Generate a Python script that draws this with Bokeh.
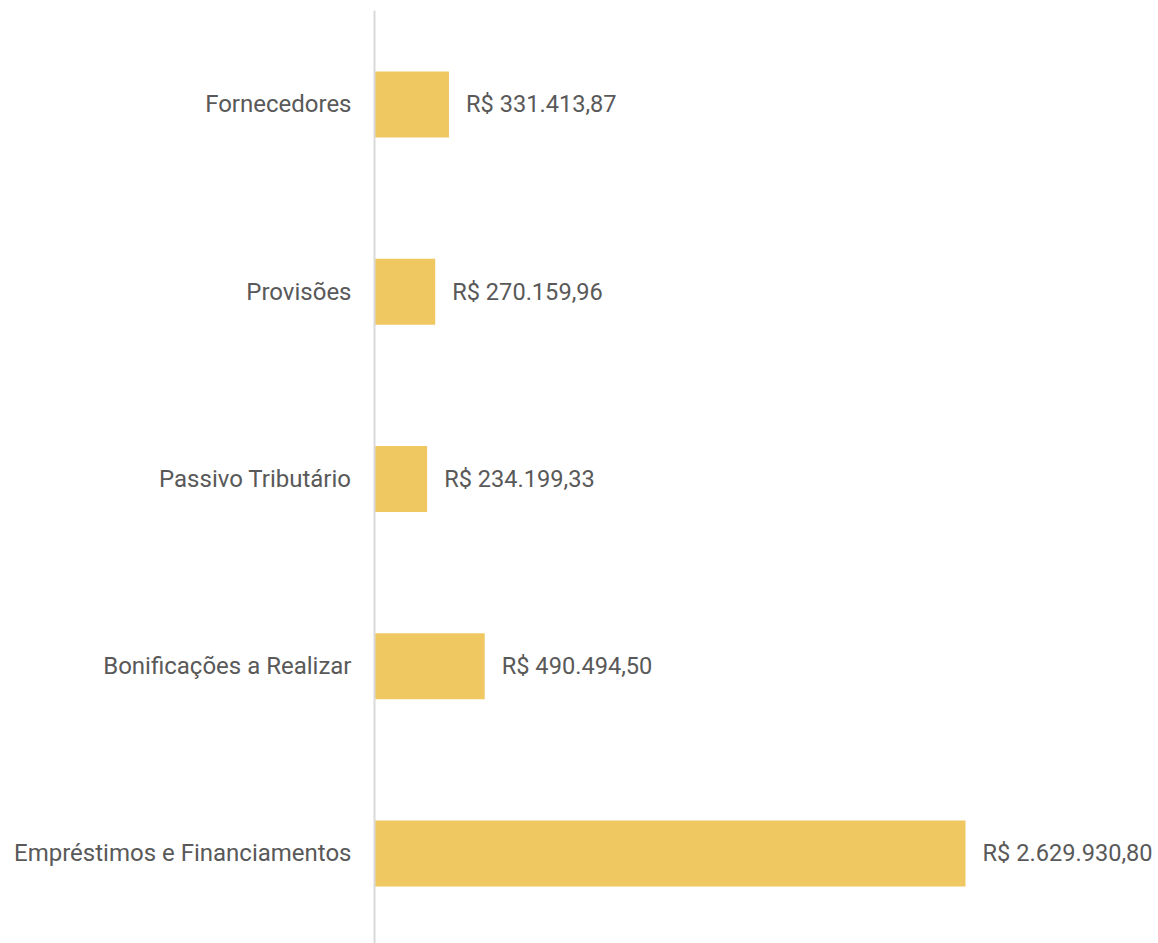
from bokeh.plotting import figure
from bokeh.models import Range1d, FixedTicker, ColumnDataSource
from bokeh.core.properties import value
from bokeh.embed import file_html
from bokeh.resources import INLINE

# Data (bottom to top)
categories = ["Empréstimos e Financiamentos", "Bonificações a Realizar",
              "Passivo Tributário", "Provisões", "Fornecedores"]
values = [2629930.80, 490494.50, 234199.33, 270159.96, 331413.87]
value_labels = ["R$ 2.629.930,80", "R$ 490.494,50", "R$ 234.199,33",
                "R$ 270.159,96", "R$ 331.413,87"]

ypos = list(range(len(categories)))
src = ColumnDataSource(dict(y=ypos, v=values, lab=value_labels))

p = figure(width=1158, height=943, output_backend="svg", toolbar_location=None,
           x_range=Range1d(0, 3488800), y_range=Range1d(-0.481, 4.502),
           min_border_left=374, min_border_right=0, min_border_top=10, min_border_bottom=0)
p.outline_line_color = None
p.background_fill_color = "white"
p.border_fill_color = "white"
p.xgrid.visible = False
p.ygrid.visible = False
p.xaxis.visible = False

p.hbar(y="y", left=0, right="v", height=0.352, source=src,
       fill_color="#EFC862", line_color=None)
p.text(x="v", y="y", text="lab", source=src, x_offset=17,
       text_baseline="middle", text_align="left",
       text_font=value("Roboto"), text_font_size="23.6px", text_color="#595959")

ax = p.yaxis[0]
ax.ticker = FixedTicker(ticks=ypos)
ax.major_label_overrides = {i: c for i, c in enumerate(categories)}
ax.major_tick_line_color = None
ax.minor_tick_line_color = None
ax.axis_line_color = "#D9D9D9"
ax.axis_line_width = 2
ax.major_label_text_font = "Roboto"
ax.major_label_text_font_size = "24px"
ax.major_label_text_color = "#595959"
ax.major_label_standoff = 17

open("out.html", "w").write(file_html(p, INLINE))
